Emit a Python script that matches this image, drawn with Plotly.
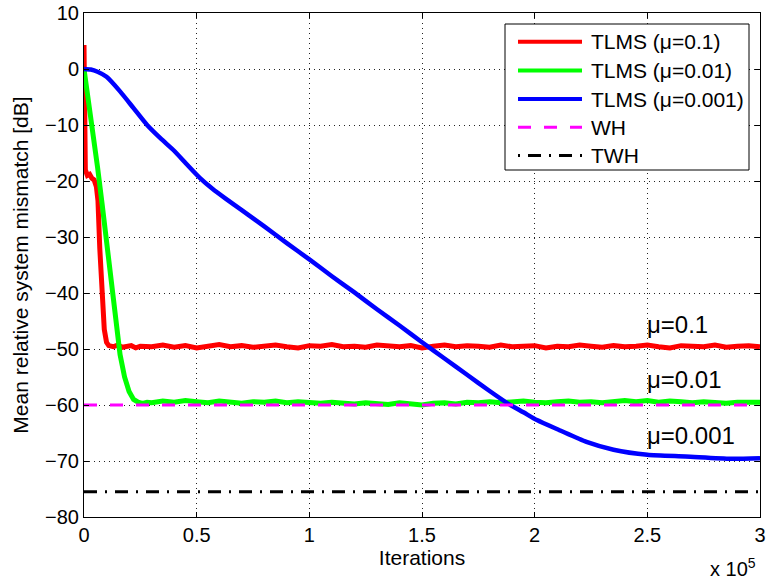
import plotly.graph_objects as go

# ---------------- data ----------------
red_head_x = [0, 600, 1500, 2500, 3500, 4500, 5500, 6200, 7000, 8000, 9000, 10000, 11000,
              13000, 15000, 17000, 19000, 21000, 23000, 25000]
red_head_y = [4.3, -18.0, -19.0, -18.8, -19.5, -19.8, -21.0, -23.5, -32.0, -41.0, -46.5,
              -48.8, -49.4, -49.6, -49.3, -49.7, -49.5, -49.4, -49.8, -49.5]

green_head_x = [0, 2000, 4000, 6000, 8000, 10000, 12000, 14000, 16000, 18000, 20000,
                22000, 24000, 26000, 28000]
green_head_y = [0.0, -5.5, -11.5, -17.5, -24.0, -31.0, -38.0, -45.0, -51.0, -55.0, -57.6,
                -59.0, -59.5, -59.7, -59.5]

tail_x = [30000, 35000, 40000, 45000, 50000, 55000, 60000, 65000, 70000, 75000,
          80000, 85000, 90000, 95000, 100000, 105000, 110000, 115000, 120000, 125000,
          130000, 135000, 140000, 145000, 150000, 155000, 160000, 165000, 170000, 175000,
          180000, 185000, 190000, 195000, 200000, 205000, 210000, 215000, 220000, 225000,
          230000, 235000, 240000, 245000, 250000, 255000, 260000, 265000, 270000, 275000,
          280000, 285000, 290000, 295000, 300000]
red_tail_y = [-49.6, -49.3, -49.7, -49.4, -49.8, -49.5, -49.2, -49.6, -49.4, -49.7,
              -49.5, -49.3, -49.6, -49.8, -49.4, -49.5, -49.2, -49.6, -49.5, -49.7,
              -49.3, -49.5, -49.6, -49.4, -49.8, -49.5, -49.3, -49.6, -49.4, -49.5,
              -49.7, -49.3, -49.6, -49.5, -49.4, -49.8, -49.5, -49.6, -49.3, -49.5,
              -49.7, -49.4, -49.6, -49.5, -49.3, -49.6, -49.8, -49.4, -49.5, -49.6,
              -49.3, -49.7, -49.5, -49.4, -49.6]
green_tail_y = [-59.6, -59.3, -59.5, -59.2, -59.4, -59.6, -59.3, -59.5, -59.7, -59.4,
                -59.5, -59.3, -59.6, -59.4, -59.5, -59.7, -59.5, -59.6, -59.8, -59.6,
                -59.7, -59.9, -59.6, -59.8, -60.0, -59.7, -59.6, -59.8, -59.5, -59.6,
                -59.4, -59.6, -59.5, -59.3, -59.5, -59.6, -59.4, -59.3, -59.5, -59.4,
                -59.6, -59.3, -59.2, -59.4, -59.2, -59.5, -59.3, -59.4, -59.6, -59.4,
                -59.5, -59.7, -59.5, -59.4, -59.5]

blue_x = [0, 3000, 6000, 10000, 16000, 22000, 28000, 34000, 40000, 46000, 51500, 57000,
          63000, 70000, 80000, 90000, 100000, 110000, 120000, 130000, 140000, 150000,
          160000, 170000, 180000, 188000, 195000, 201000, 211000, 223000, 235000, 250000,
          267000, 287000, 300000]
blue_y = [0.0, -0.1, -0.5, -1.4, -4.0, -7.0, -10.0, -12.4, -14.6, -17.2, -19.5, -21.4,
          -23.2, -25.2, -28.1, -31.1, -34.0, -37.0, -39.9, -42.9, -45.8, -48.8,
          -51.7, -54.6, -57.5, -59.7, -61.3, -62.7, -64.5, -66.6, -68.0, -68.9,
          -69.2, -69.6, -69.5]

wh_level = -60.0
twh_level = -75.5
x_range = [0, 300000]

x_tickvals = [0, 50000, 100000, 150000, 200000, 250000, 300000]
x_ticktext = ["0", "0.5", "1", "1.5", "2", "2.5", "3"]
y_tickvals = [10, 0, -10, -20, -30, -40, -50, -60, -70, -80]
y_ticktext = ["10", "0", "\u221210", "\u221220", "\u221230", "\u221240", "\u221250",
              "\u221260", "\u221270", "\u221280"]

labels = ["TLMS (\u03bc=0.1)", "TLMS (\u03bc=0.01)", "TLMS (\u03bc=0.001)", "WH", "TWH"]
curve_notes = [("\u03bc=0.1", 249000, -45.7), ("\u03bc=0.01", 249000, -55.5),
               ("\u03bc=0.001", 249000, -65.4)]

# ---------------- figure ----------------
FONT = "Liberation Sans, Arial, Helvetica, sans-serif"
W, H = 768, 582
ML, MR, MT, MB = 84, 8, 13, 65
PW, PH = W - ML - MR, H - MT - MB

def px2paper_x(px):
    return (px - ML) / PW

def px2paper_y(py):
    return 1 - (py - MT) / PH

styles = [
    dict(color="#ff0000", width=5),
    dict(color="#00ff00", width=5),
    dict(color="#0000ff", width=4.5, shape="spline", smoothing=0.6),
    dict(color="#ff00ff", width=3, dash="13px,13px"),
    dict(color="#000000", width=3, dash="13px,8px,2px,8px"),
]
legend_styles = [
    dict(color="#ff0000", width=4),
    dict(color="#00ff00", width=4),
    dict(color="#0000ff", width=4),
    dict(color="#ff00ff", width=3, dash="13px,13px"),
    dict(color="#000000", width=3, dash="2px,8px,13px,8px"),
]

fig = go.Figure()
fig.add_trace(go.Scatter(x=red_head_x + tail_x, y=red_head_y + red_tail_y, mode="lines",
                         name=labels[0], line=styles[0]))
fig.add_trace(go.Scatter(x=green_head_x + tail_x, y=green_head_y + green_tail_y, mode="lines",
                         name=labels[1], line=styles[1]))
fig.add_trace(go.Scatter(x=blue_x, y=blue_y, mode="lines", name=labels[2], line=styles[2]))
fig.add_trace(go.Scatter(x=x_range, y=[wh_level, wh_level], mode="lines",
                         name=labels[3], line=styles[3]))
fig.add_trace(go.Scatter(x=x_range, y=[twh_level, twh_level], mode="lines",
                         name=labels[4], line=styles[4]))

for txt, xx, yy in curve_notes:
    fig.add_annotation(x=xx, y=yy, text=txt, showarrow=False, xanchor="left",
                       font=dict(size=24, color="black", family=FONT))

fig.add_annotation(x=1.0, y=0, xref="paper", yref="paper", xanchor="right", yanchor="top",
                   xshift=-2, yshift=-36, text="x 10<sup>5</sup>", showarrow=False,
                   font=dict(size=20, color="black", family=FONT))

# ---- custom legend (longer sample lines, as in the reference) ----
leg_left, leg_right, leg_top, leg_bottom = 505, 749, 24, 170
fig.add_shape(type="rect", xref="paper", yref="paper",
              x0=px2paper_x(leg_left), x1=px2paper_x(leg_right),
              y0=px2paper_y(leg_bottom), y1=px2paper_y(leg_top),
              line=dict(color="black", width=1), fillcolor="white", layer="above")
row_y = [41.7, 70.5, 99, 127.3, 155.5]
for i, lab in enumerate(labels):
    yy = px2paper_y(row_y[i])
    fig.add_shape(type="line", xref="paper", yref="paper",
                  x0=px2paper_x(518), x1=px2paper_x(582), y0=yy, y1=yy,
                  line=legend_styles[i], layer="above")
    fig.add_annotation(x=px2paper_x(589), y=yy, xref="paper", yref="paper",
                       xanchor="left", yanchor="middle", text=lab, showarrow=False,
                       font=dict(size=21, color="black", family=FONT))

axis_common = dict(showline=True, linecolor="black", linewidth=1, mirror="ticks",
                   ticks="inside", ticklen=5, tickcolor="black", automargin=False,
                   showgrid=True, gridcolor="#222222", gridwidth=1, griddash="1px,4px",
                   zeroline=False, tickfont=dict(size=20, color="black", family=FONT))

fig.update_layout(
    width=W, height=H,
    margin=dict(l=ML, r=MR, t=MT, b=MB, autoexpand=False),
    paper_bgcolor="white", plot_bgcolor="white",
    font=dict(family=FONT, size=20, color="black"),
    xaxis=dict(range=x_range, tickvals=x_tickvals, ticktext=x_ticktext,
               title=dict(text="Iterations", standoff=2, font=dict(size=21)), **axis_common),
    yaxis=dict(range=[-80, 10], tickvals=y_tickvals, ticktext=y_ticktext,
               title=dict(text="Mean relative system mismatch [dB]", standoff=10,
                          font=dict(size=21)), **axis_common),
    showlegend=False,
)

fig.write_html("out.html")
